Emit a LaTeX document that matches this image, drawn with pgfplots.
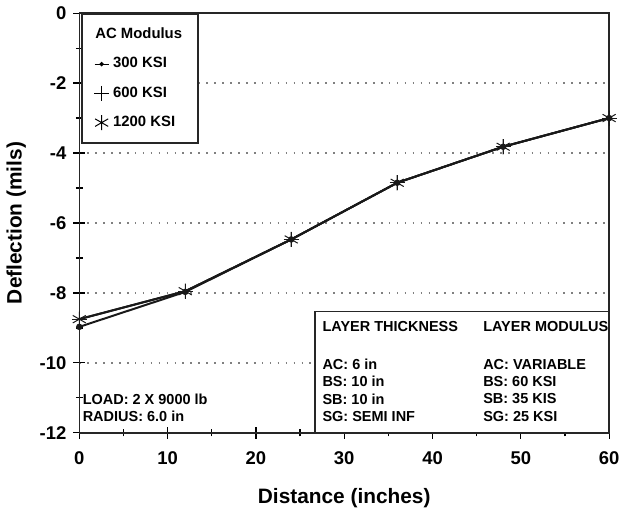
\documentclass[border=0pt]{standalone}
\usepackage{fontspec}
\setmainfont{Liberation Sans}
\usepackage{pgfplots}
\pgfplotsset{compat=1.18}
\begin{document}
\begin{tikzpicture}
\begin{axis}[
    scale only axis,
    width=267pt, height=211.5pt,
    xmin=0, xmax=60,
    ymin=-12, ymax=0,
    xtick={0,10,...,60},
    ytick={-12,-10,...,0},
    minor x tick num=1,
    minor y tick num=1,
    xtick pos=left, ytick pos=left,
    tick align=center,
    major tick length=6pt,
    minor tick length=3.5pt,
    tick style={black, line width=0.6pt},
    axis line style={black!85, line width=0.8pt},
    ymajorgrids,
    grid style={gray, line width=0.8pt, dash pattern=on 0.8pt off 3.2pt},
    /pgf/number format/assume math mode=true,
    tick label style={font=\fontsize{9.3}{11}\selectfont\bfseries},
    xticklabel style={yshift=-3pt},
    label style={font=\fontsize{10.5}{12}\selectfont\bfseries},
    xlabel={Distance (inches)},
    ylabel={Deflection (mils)},
    xlabel style={yshift=-5pt},
    legend style={
        at={(rel axis cs:0.004,1)}, anchor=north west,
        draw=black!85, line width=0.8pt, fill=white,
        font=\fontsize{7.5}{9}\selectfont\bfseries,
        row sep=4pt, inner xsep=6pt, inner ysep=5pt,
        legend cell align=left
    }
]
    % legend entries
    \addlegendimage{empty legend}
    \addlegendentry{\hspace{-9pt}AC Modulus}
    \addlegendimage{legend image code/.code={
        \draw[black, line width=0.6pt, mark=*, mark size=0.8pt, mark repeat=2, mark phase=2]
            plot coordinates {(0pt,0pt)(3.5pt,0pt)(7pt,0pt)};}}
    \addlegendentry{300 KSI}
    \addlegendimage{legend image code/.code={
        \draw[black, line width=0.5pt, mark=+, mark size=3.8pt, only marks]
            plot coordinates {(3.5pt,0pt)};}}
    \addlegendentry{600 KSI}
    \addlegendimage{legend image code/.code={
        \draw[black, line width=0.5pt, mark=asterisk, mark size=3.8pt, only marks]
            plot coordinates {(3.5pt,0pt)};}}
    \addlegendentry{1200 KSI}

    % 300 KSI
    \addplot[forget plot, black!90, line width=1pt, mark=*, mark size=1.1pt]
        coordinates {(0,-8.97) (12,-7.97) (24,-6.47) (36,-4.85) (48,-3.82) (60,-3.0)};
    % 600 KSI
    \addplot[forget plot, black!90, line width=1pt, mark=+, mark size=3.8pt,
        mark options={line width=0.5pt}]
        coordinates {(0,-8.75) (12,-7.95) (24,-6.47) (36,-4.85) (48,-3.82) (60,-3.0)};
    % 1200 KSI
    \addplot[forget plot, black!90, line width=1pt, mark=asterisk, mark size=3.8pt,
        mark options={line width=0.5pt}]
        coordinates {(0,-8.75) (12,-7.95) (24,-6.47) (36,-4.85) (48,-3.82) (60,-3.0)};

    % layer box
    \draw[black!85, line width=0.8pt, fill=white]
        (axis cs:26.7,-8.53) rectangle (axis cs:60,-12);
    \begin{scope}[every node/.style={anchor=west, inner sep=0pt,
        font=\fontsize{7.3}{9}\selectfont\bfseries}]
        \node at (axis cs:27.5,-8.96) {LAYER THICKNESS};
        \node at (axis cs:27.5,-10.04) {AC: 6 in};
        \node at (axis cs:27.5,-10.52) {BS: 10 in};
        \node at (axis cs:27.5,-11.03) {SB: 10 in};
        \node at (axis cs:27.5,-11.52) {SG: SEMI INF};
        \node at (axis cs:45.7,-8.96) {LAYER MODULUS};
        \node at (axis cs:45.7,-10.04) {AC: VARIABLE};
        \node at (axis cs:45.7,-10.52) {BS: 60 KSI};
        \node at (axis cs:45.7,-11.03) {SB: 35 KIS};
        \node at (axis cs:45.7,-11.52) {SG: 25 KSI};
        \node at (axis cs:0.35,-11.03) {LOAD: 2 X 9000 lb};
        \node at (axis cs:0.35,-11.52) {RADIUS: 6.0 in};
    \end{scope}
\end{axis}
\end{tikzpicture}
\end{document}
